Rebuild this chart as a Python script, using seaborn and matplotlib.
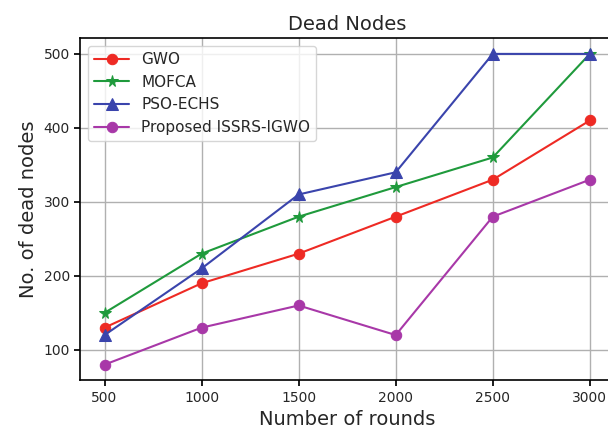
import matplotlib
matplotlib.use("Agg")
import matplotlib.pyplot as plt
import seaborn as sns
import pandas as pd

rounds = [500, 1000, 1500, 2000, 2500, 3000]
gwo = [130, 190, 230, 280, 330, 410]
mofca = [150, 230, 280, 320, 360, 500]
pso_echs = [120, 210, 310, 340, 500, 500]
proposed = [80, 130, 160, 120, 280, 330]
series_names = ["GWO", "MOFCA", "PSO-ECHS", "Proposed ISSRS-IGWO"]
y_ticks = [100, 200, 300, 400, 500]
x_ticks = rounds

sns.set_theme(style="ticks")
plt.rcParams['font.family'] = ['DejaVu Sans']

rows = []
for name, vals in zip(series_names, [gwo, mofca, pso_echs, proposed]):
    for r, v in zip(rounds, vals):
        rows.append({"Rounds": r, "Dead": v, "Method": name})
df = pd.DataFrame(rows)

colors = {"GWO": "#ee2a24", "MOFCA": "#1f9a3c", "PSO-ECHS": "#3a44ac", "Proposed ISSRS-IGWO": "#a838a8"}
markers = {"GWO": "o", "MOFCA": "*", "PSO-ECHS": "^", "Proposed ISSRS-IGWO": "o"}
msizes = {"GWO": 7.5, "MOFCA": 8.5, "PSO-ECHS": 8, "Proposed ISSRS-IGWO": 7.5}

fig = plt.figure(figsize=(6.08, 4.36), dpi=100)
ax = fig.add_axes([0.132, 0.128, 0.878, 0.784])
sns.lineplot(data=df, x="Rounds", y="Dead", hue="Method", style="Method",
             markers=markers, dashes=False, palette=colors, markersize=8,
             linewidth=1.5, ax=ax, hue_order=series_names,
             style_order=series_names)

for line, name in zip(ax.get_lines()[:4], series_names):
    line.set_markeredgecolor(colors[name])
    line.set_markerfacecolor(colors[name])
    line.set_markersize(msizes[name])

ax.grid(True, color="#b0b0b0", linewidth=1)
ax.set_xticks(x_ticks)
ax.set_yticks(y_ticks)
ax.tick_params(labelsize=10, length=4, color="black")
for s in ax.spines.values():
    s.set_color("black")
    s.set_linewidth(1.2)
ax.set_title("Dead Nodes", fontsize=14)
ax.set_xlabel("Number of rounds", fontsize=14)
ax.set_ylabel("No. of dead nodes", fontsize=14)
leg = ax.legend(loc="upper left", fontsize=11, frameon=True, handlelength=2.3)
for h, name in zip(leg.legend_handles, series_names):
    h.set_markersize(msizes[name])
    h.set_markeredgecolor(colors[name])
    h.set_markerfacecolor(colors[name])

fig.savefig("out.png", dpi=100)
